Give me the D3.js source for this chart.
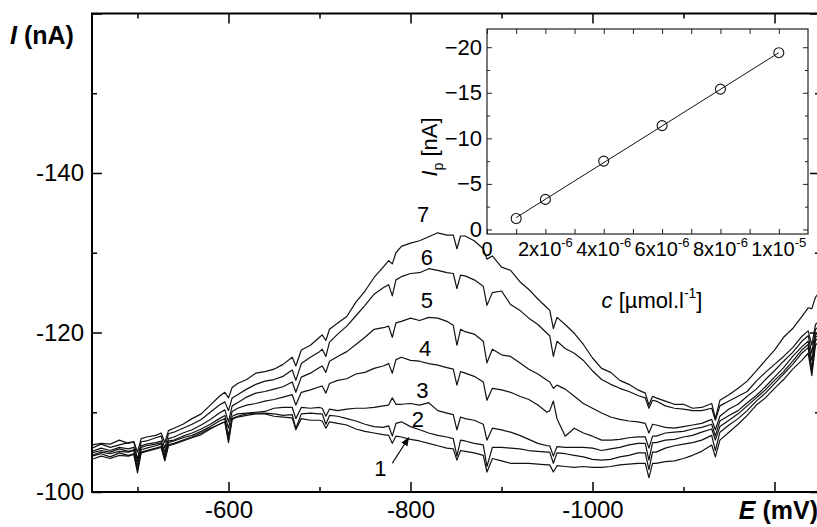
<!DOCTYPE html>
<html>
<head>
<meta charset="utf-8">
<script src="https://cdn.jsdelivr.net/npm/d3@7"></script>
<style>
  body { margin: 0; background: #fff; }
  svg text { font-family: Arial, "Liberation Sans", sans-serif; fill: #000; }
</style>
</head>
<body>
<div id="chart"></div>
<script>
const width = 817;
const height = 527;

// potential (mV), shared by every voltammogram
const potentials = [-450,-460,-470,-480,-490,-496,-500,-504,-510,-520,
  -526,-530,-534,-540,-550,-560,-570,-580,-590,-596,
  -600,-604,-610,-620,-630,-640,-650,-660,-670,-674,
  -680,-690,-700,-703,-707,-711,-720,-730,-740,-750,
  -760,-770,-776,-780,-784,-790,-800,-810,-820,-830,
  -840,-847,-851,-855,-860,-870,-880,-884,-890,-900,
  -910,-920,-930,-940,-950,-953,-957,-961,-970,-980,
  -990,-1000,-1010,-1020,-1030,-1040,-1050,-1058,-1062,-1066,
  -1070,-1080,-1090,-1100,-1110,-1120,-1131,-1135,-1140,-1150,
  -1160,-1170,-1180,-1190,-1200,-1210,-1220,-1230,-1237,-1241,
  -1245,-1250];

// current (nA) of curves 1..7
const curve1 = [-104.1,-104.5,-104.2,-104.6,-104.5,-104.7,-102.4,-104.9,-105.1,-105.4,
  -105.6,-103.9,-105.8,-106.0,-106.4,-106.8,-107.2,-107.9,-108.5,-108.8,
  -106.2,-109.1,-109.4,-109.6,-109.8,-109.8,-109.5,-109.4,-109.3,-107.8,
  -109.2,-109.0,-109.0,-108.9,-108.0,-108.8,-108.6,-108.4,-107.9,-107.6,
  -107.4,-107.2,-107.1,-106.1,-107.0,-106.9,-106.6,-106.4,-106.1,-105.8,
  -105.5,-105.4,-104.0,-105.2,-105.1,-104.9,-104.6,-102.5,-104.2,-103.9,
  -103.6,-103.6,-103.6,-103.5,-103.4,-103.4,-102.5,-103.3,-103.2,-103.1,
  -103.2,-103.1,-103.1,-103.2,-103.4,-103.5,-103.6,-103.6,-101.8,-103.6,
  -103.6,-103.8,-103.9,-104.2,-104.6,-105.1,-105.9,-104.4,-106.5,-107.5,
  -108.5,-109.6,-110.9,-111.8,-113.0,-114.1,-115.4,-116.5,-117.4,-114.6,
  -118.4,-119.0];
const curve2 = [-104.5,-104.8,-104.4,-104.9,-104.6,-104.8,-102.8,-105.0,-105.2,-105.5,
  -105.7,-104.0,-105.9,-106.1,-106.5,-106.9,-107.4,-108.0,-108.5,-108.8,
  -106.5,-109.2,-109.5,-109.8,-109.9,-109.9,-109.8,-109.6,-109.7,-108.0,
  -109.8,-109.9,-109.8,-109.8,-108.5,-109.6,-109.5,-109.2,-108.9,-108.5,
  -108.2,-108.1,-108.3,-107.0,-108.6,-108.8,-108.2,-107.8,-107.4,-107.1,
  -106.9,-106.7,-104.5,-106.5,-106.4,-106.1,-105.9,-103.2,-105.6,-105.6,
  -105.5,-105.4,-105.2,-105.1,-105.0,-105.0,-103.6,-104.9,-104.8,-104.6,
  -104.4,-104.1,-104.0,-104.1,-104.4,-104.6,-104.9,-104.9,-102.8,-105.0,
  -105.0,-105.5,-105.8,-106.0,-106.2,-106.5,-107.1,-105.2,-107.5,-108.4,
  -109.2,-110.2,-111.4,-112.4,-113.6,-114.8,-116.0,-117.4,-118.1,-115.0,
  -119.0,-119.5];
const curve3 = [-104.6,-105.0,-104.8,-105.1,-105.0,-105.2,-103.0,-105.3,-105.5,-105.8,
  -106.0,-104.2,-106.2,-106.4,-106.8,-107.1,-107.6,-108.2,-108.9,-109.2,
  -107.1,-109.5,-109.8,-109.9,-110.0,-110.1,-110.5,-110.6,-110.6,-109.2,
  -110.6,-110.5,-110.6,-110.5,-109.5,-110.4,-110.2,-110.4,-110.5,-110.5,
  -110.6,-110.8,-110.9,-111.8,-111.0,-111.0,-111.1,-110.9,-111.2,-110.2,
  -109.9,-109.7,-107.8,-109.4,-109.2,-109.0,-108.5,-106.5,-108.0,-107.8,
  -107.5,-107.1,-106.6,-106.1,-105.8,-105.8,-104.5,-105.7,-105.6,-105.6,
  -105.6,-105.5,-105.2,-105.4,-105.6,-105.9,-106.1,-106.1,-104.0,-106.2,
  -106.2,-106.5,-106.6,-106.9,-107.1,-107.5,-107.9,-106.5,-108.2,-109.0,
  -109.8,-110.8,-111.8,-112.8,-114.0,-115.1,-116.4,-117.8,-118.5,-115.5,
  -119.4,-119.9];
const curve4 = [-104.9,-105.2,-105.0,-105.4,-105.1,-105.3,-103.2,-105.6,-105.8,-106.0,
  -106.2,-104.6,-106.4,-106.5,-107.0,-107.4,-107.9,-108.5,-109.2,-109.6,
  -108.0,-110.1,-110.5,-110.9,-111.1,-111.4,-111.6,-111.9,-112.2,-110.9,
  -112.5,-112.8,-113.2,-113.3,-112.4,-113.6,-114.0,-114.2,-114.8,-115.0,
  -115.5,-115.8,-116.1,-114.9,-116.6,-116.9,-116.5,-116.4,-116.1,-115.9,
  -115.6,-115.4,-113.4,-115.1,-114.9,-114.5,-113.8,-111.5,-113.0,-112.8,
  -112.5,-112.0,-111.6,-110.9,-110.0,-110.2,-111.4,-109.2,-107.0,-108.0,
  -107.4,-107.0,-106.5,-106.5,-106.6,-106.8,-106.9,-106.9,-105.5,-107.0,
  -107.0,-107.4,-107.5,-107.6,-107.9,-108.1,-108.5,-107.0,-108.9,-109.6,
  -110.2,-111.2,-112.1,-113.2,-114.4,-115.6,-117.0,-118.2,-118.9,-116.5,
  -119.7,-120.2];
const curve5 = [-105.1,-105.5,-105.2,-105.6,-105.4,-105.6,-103.8,-105.8,-106.0,-106.2,
  -106.4,-105.0,-106.7,-106.9,-107.4,-107.8,-108.4,-109.1,-109.9,-110.3,
  -108.8,-110.8,-111.2,-111.9,-112.4,-112.6,-112.9,-113.2,-113.8,-112.5,
  -114.4,-114.9,-115.6,-115.8,-115.0,-116.4,-117.0,-117.6,-118.5,-119.4,
  -120.4,-120.6,-120.8,-119.4,-121.2,-121.4,-121.8,-121.5,-121.9,-121.8,
  -121.4,-120.9,-118.4,-120.4,-120.1,-119.8,-118.9,-116.2,-117.9,-117.2,
  -117.0,-116.2,-115.4,-114.8,-114.0,-113.8,-113.0,-113.4,-112.9,-112.0,
  -111.1,-110.5,-109.9,-109.4,-109.1,-108.9,-108.8,-108.6,-107.4,-108.5,
  -108.4,-108.1,-108.0,-108.2,-108.4,-108.6,-109.1,-107.8,-109.5,-110.4,
  -111.0,-112.0,-112.9,-114.1,-115.2,-116.4,-117.5,-118.9,-119.6,-117.4,
  -120.4,-120.9];
const curve6 = [-105.5,-106.0,-105.6,-105.9,-106.2,-106.3,-104.1,-106.3,-106.4,-106.8,
  -107.0,-105.5,-107.3,-107.5,-108.0,-108.5,-109.1,-110.0,-110.9,-111.3,
  -110.2,-111.8,-112.2,-112.9,-113.5,-113.9,-114.1,-114.5,-115.3,-114.0,
  -116.1,-116.9,-117.6,-117.9,-117.0,-118.8,-119.8,-120.8,-122.1,-123.4,
  -124.8,-125.6,-126.0,-124.6,-126.6,-127.0,-127.4,-127.5,-128.0,-127.8,
  -127.5,-127.4,-125.5,-127.2,-127.1,-126.6,-125.8,-123.4,-125.0,-125.2,
  -123.5,-122.8,-121.8,-121.0,-119.9,-119.6,-117.0,-118.9,-118.0,-117.4,
  -116.5,-115.2,-114.1,-113.5,-113.0,-112.6,-112.1,-111.8,-110.5,-111.5,
  -111.4,-110.8,-110.5,-110.4,-110.2,-110.2,-110.5,-109.0,-110.8,-111.4,
  -112.0,-112.6,-113.9,-115.0,-116.0,-117.0,-118.1,-119.5,-120.2,-118.4,
  -121.0,-121.5];
const curve7 = [-105.9,-106.1,-106.0,-106.5,-106.1,-106.3,-105.0,-106.7,-106.9,-107.1,
  -107.4,-106.2,-107.7,-108.0,-108.5,-109.2,-109.8,-110.9,-112.0,-112.5,
  -111.8,-113.1,-113.6,-114.1,-114.9,-115.1,-115.4,-116.0,-116.9,-115.8,
  -117.8,-118.4,-119.4,-119.7,-119.0,-120.4,-121.2,-122.0,-123.8,-125.2,
  -126.9,-128.2,-129.0,-128.6,-130.0,-130.8,-131.2,-131.5,-132.0,-132.5,
  -132.2,-132.2,-130.5,-132.1,-132.1,-131.5,-130.5,-129.2,-129.6,-128.2,
  -127.8,-126.4,-125.4,-124.2,-123.1,-122.8,-120.5,-121.9,-121.0,-119.9,
  -118.5,-116.8,-115.5,-115.0,-114.0,-113.5,-112.8,-112.4,-110.9,-112.0,
  -111.8,-111.4,-111.0,-111.0,-110.5,-110.6,-111.1,-109.2,-111.5,-112.2,
  -113.0,-113.9,-115.2,-116.5,-117.8,-119.4,-120.5,-122.0,-123.1,-123.0,
  -124.4,-125.2];
const curves = [curve1, curve2, curve3, curve4, curve5, curve6, curve7];

// curve numbers and where they sit (mV, nA)
const curveNames = ['1', '2', '3', '4', '5', '6', '7'];
const labelE = [-767, -808, -813, -816, -818, -818, -814];
const labelI = [-103.0, -109.1, -112.8, -118.0, -124.1, -129.5, -134.9];
const arrowE = [-780, -798];
const arrowI = [-103.6, -106.8];

const xMajor = [-600, -800, -1000, -1200];
const xMinor = [-500, -700, -900, -1100];
const yMajor = [-100, -120, -140, -160];
const yMinor = [-110, -130, -150];

// inset: peak current vs concentration
const conc = [1e-6, 2e-6, 4e-6, 6e-6, 8e-6, 1e-5];
const peakI = [-1.2, -3.3, -7.5, -11.4, -15.4, -19.4];
const fitConc = [1e-6, 1e-5];
const fitI = [-1.3, -19.4];
const insetXTicks = [0, 2e-6, 4e-6, 6e-6, 8e-6, 1e-5];
const insetXLabels = [['0', ''], ['2x10', '-6'], ['4x10', '-6'], ['6x10', '-6'], ['8x10', '-6'], ['1x10', '-5']];
const insetXMinor = [1e-6, 3e-6, 5e-6, 7e-6, 9e-6];
const insetYTicks = [0, -5, -10, -15, -20];
const insetYMinor = [-2.5, -7.5, -12.5, -17.5];

const svg = d3.select('#chart').append('svg')
  .attr('width', width)
  .attr('height', height);

const x = d3.scaleLinear().domain([-450, -1250]).range([92, 820]);
const y = d3.scaleLinear().domain([-100, -160]).range([492, 13.5]);

svg.append('clipPath').attr('id', 'plotclip')
  .append('rect')
  .attr('x', x(-450)).attr('y', y(-160))
  .attr('width', x(-1250) - x(-450)).attr('height', y(-100) - y(-160));

const line = d3.line()
  .x((d, i) => x(potentials[i]))
  .y(d => y(d));

svg.append('g').attr('clip-path', 'url(#plotclip)')
  .selectAll('path')
  .data(curves)
  .join('path')
  .attr('d', line)
  .attr('fill', 'none')
  .attr('stroke', '#111')
  .attr('stroke-width', 1.2)
  .attr('stroke-linejoin', 'round');

// axes, ticks inward
const tickStyle = g => {
  g.select('.domain').remove();
  g.selectAll('line').attr('stroke', '#000').attr('stroke-width', 1.5);
  g.selectAll('text').attr('font-size', 24).attr('fill', '#000');
};

svg.append('g').attr('transform', `translate(0,${y(-100)})`)
  .call(d3.axisBottom(x).tickValues(xMajor).tickSize(-10).tickPadding(9)
    .tickFormat(d => d === -1200 ? '' : d))
  .call(tickStyle);
svg.append('g').attr('transform', `translate(0,${y(-100)})`)
  .call(d3.axisBottom(x).tickValues(xMinor).tickSize(-5).tickFormat(''))
  .call(tickStyle);
svg.append('g').attr('transform', `translate(0,${y(-160)})`)
  .call(d3.axisTop(x).tickValues(xMajor).tickSize(-10).tickFormat(''))
  .call(tickStyle);
svg.append('g').attr('transform', `translate(0,${y(-160)})`)
  .call(d3.axisTop(x).tickValues(xMinor).tickSize(-5).tickFormat(''))
  .call(tickStyle);

svg.append('g').attr('transform', `translate(${x(-450)},0)`)
  .call(d3.axisLeft(y).tickValues(yMajor).tickSize(-10).tickPadding(8)
    .tickFormat(d => d === -160 ? '' : d))
  .call(tickStyle);
svg.append('g').attr('transform', `translate(${x(-450)},0)`)
  .call(d3.axisLeft(y).tickValues(yMinor).tickSize(-5).tickFormat(''))
  .call(tickStyle);
svg.append('g').attr('transform', `translate(${x(-1250)},0)`)
  .call(d3.axisRight(y).tickValues(yMajor).tickSize(-10).tickFormat(''))
  .call(tickStyle);
svg.append('g').attr('transform', `translate(${x(-1250)},0)`)
  .call(d3.axisRight(y).tickValues(yMinor).tickSize(-5).tickFormat(''))
  .call(tickStyle);

svg.append('rect')
  .attr('x', x(-450)).attr('y', y(-160))
  .attr('width', x(-1250) - x(-450)).attr('height', y(-100) - y(-160))
  .attr('fill', 'none').attr('stroke', '#000').attr('stroke-width', 2);

// axis titles
const yTitle = svg.append('text')
  .attr('x', 10).attr('y', 44)
  .attr('font-size', 25).attr('font-weight', 'bold');
yTitle.append('tspan').attr('font-style', 'italic').text('I');
yTitle.append('tspan').text(' (nA)');

const xTitle = svg.append('text')
  .attr('x', 818).attr('y', 519)
  .attr('text-anchor', 'end')
  .attr('font-size', 25).attr('font-weight', 'bold');
xTitle.append('tspan').attr('font-style', 'italic').text('E');
xTitle.append('tspan').text(' (mV)');

// curve numbers
svg.append('g').selectAll('text')
  .data(curveNames)
  .join('text')
  .attr('x', (d, i) => x(labelE[i]))
  .attr('y', (d, i) => y(labelI[i]))
  .attr('dy', '0.36em')
  .attr('text-anchor', 'middle')
  .attr('font-size', 22)
  .text(d => d);

svg.append('defs').append('marker')
  .attr('id', 'head')
  .attr('viewBox', '0 0 10 10')
  .attr('refX', 9).attr('refY', 5)
  .attr('markerWidth', 9).attr('markerHeight', 9)
  .attr('markerUnits', 'userSpaceOnUse')
  .attr('orient', 'auto')
  .append('path').attr('d', 'M0,1 L10,5 L0,9 Z').attr('fill', '#000');

svg.append('line')
  .attr('x1', x(arrowE[0])).attr('y1', y(arrowI[0]))
  .attr('x2', x(arrowE[1])).attr('y2', y(arrowI[1]))
  .attr('stroke', '#000').attr('stroke-width', 1.2)
  .attr('marker-end', 'url(#head)');

// inset
const ix = d3.scaleLinear().domain([0, 1.1e-5]).range([487, 808]);
const iy = d3.scaleLinear().domain([0.5, -22]).range([234, 29]);
const inset = svg.append('g');

const insetTick = g => {
  g.select('.domain').remove();
  g.selectAll('line').attr('stroke', '#222').attr('stroke-width', 1);
  g.selectAll('text').attr('font-size', 22).attr('fill', '#000');
};

inset.append('g').attr('transform', `translate(0,${iy(0.5)})`)
  .call(d3.axisBottom(ix).tickValues(insetXTicks.concat(insetXMinor)).tickSize(-5).tickFormat(''))
  .call(insetTick);
inset.append('g').attr('transform', `translate(0,${iy(-22)})`)
  .call(d3.axisTop(ix).tickValues(insetXTicks.concat(insetXMinor)).tickSize(-5).tickFormat(''))
  .call(insetTick);
inset.append('g').attr('transform', `translate(${ix(0)},0)`)
  .call(d3.axisLeft(iy).tickValues(insetYTicks).tickSize(-5).tickPadding(5))
  .call(insetTick);
inset.append('g').attr('transform', `translate(${ix(0)},0)`)
  .call(d3.axisLeft(iy).tickValues(insetYMinor).tickSize(-3).tickFormat(''))
  .call(insetTick);
inset.append('g').attr('transform', `translate(${ix(1.1e-5)},0)`)
  .call(d3.axisRight(iy).tickValues(insetYTicks).tickSize(-5).tickFormat(''))
  .call(insetTick);
inset.append('g').attr('transform', `translate(${ix(1.1e-5)},0)`)
  .call(d3.axisRight(iy).tickValues(insetYMinor).tickSize(-3).tickFormat(''))
  .call(insetTick);

inset.append('rect')
  .attr('x', ix(0)).attr('y', iy(-22))
  .attr('width', ix(1.1e-5) - ix(0)).attr('height', iy(0.5) - iy(-22))
  .attr('fill', 'none').attr('stroke', '#222').attr('stroke-width', 1.2);

const xl = inset.append('g').selectAll('text')
  .data(insetXTicks)
  .join('text')
  .attr('x', d => ix(d))
  .attr('y', iy(0.5) + 22)
  .attr('text-anchor', 'middle')
  .attr('font-size', 20);
xl.append('tspan').text((d, i) => insetXLabels[i][0]);
xl.append('tspan').attr('font-size', 13).attr('dy', -9).text((d, i) => insetXLabels[i][1]);

inset.append('path')
  .datum(fitConc)
  .attr('d', d3.line().x(d => ix(d)).y((d, i) => iy(fitI[i])))
  .attr('fill', 'none').attr('stroke', '#111').attr('stroke-width', 1);

inset.selectAll('circle')
  .data(conc)
  .join('circle')
  .attr('cx', d => ix(d))
  .attr('cy', (d, i) => iy(peakI[i]))
  .attr('r', 5)
  .attr('fill', 'none').attr('stroke', '#111').attr('stroke-width', 1.1);

const ixTitle = inset.append('text')
  .attr('x', 652).attr('y', 308)
  .attr('text-anchor', 'middle').attr('font-size', 22);
ixTitle.append('tspan').attr('font-style', 'italic').text('c');
ixTitle.append('tspan').text(' [\u00b5mol.l');
ixTitle.append('tspan').attr('font-size', 14).attr('dy', -10).text('-1');
ixTitle.append('tspan').attr('dy', 10).text(']');

const iyTitle = inset.append('text')
  .attr('transform', 'translate(437,147) rotate(-90)')
  .attr('text-anchor', 'middle').attr('font-size', 22);
iyTitle.append('tspan').attr('font-style', 'italic').text('I');
iyTitle.append('tspan').attr('font-size', 14).attr('dy', 6).text('p');
iyTitle.append('tspan').attr('dy', -6).text(' [nA]');
</script>
</body>
</html>
